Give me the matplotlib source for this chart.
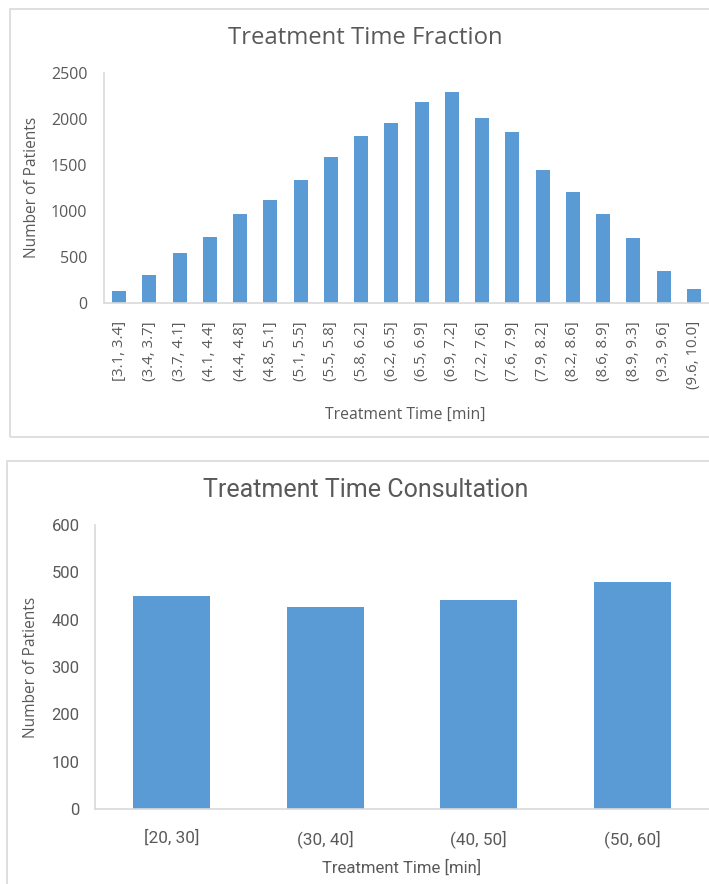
import matplotlib
matplotlib.use("Agg")
import matplotlib.pyplot as plt
from matplotlib.patches import Rectangle
from matplotlib import font_manager

# --- data -------------------------------------------------------------
fraction_bins = ["[3.1, 3.4]", "(3.4, 3.7]", "(3.7, 4.1]", "(4.1, 4.4]", "(4.4, 4.8]",
                 "(4.8, 5.1]", "(5.1, 5.5]", "(5.5, 5.8]", "(5.8, 6.2]", "(6.2, 6.5]",
                 "(6.5, 6.9]", "(6.9, 7.2]", "(7.2, 7.6]", "(7.6, 7.9]", "(7.9, 8.2]",
                 "(8.2, 8.6]", "(8.6, 8.9]", "(8.9, 9.3]", "(9.3, 9.6]", "(9.6, 10.0]"]
fraction_counts = [135, 300, 540, 713, 963, 1118, 1332, 1582, 1810, 1951,
                   2179, 2294, 2005, 1860, 1448, 1209, 963, 702, 351, 155]
fraction_yticks = [0, 500, 1000, 1500, 2000, 2500]

consult_bins = ["[20, 30]", "(30, 40]", "(40, 50]", "(50, 60]"]
consult_counts = [451, 427, 442, 480]
consult_yticks = [0, 100, 200, 300, 400, 500, 600]

# --- style ------------------------------------------------------------
BAR = "#5B9BD5"
TXT = "#595959"
GRID = "#D9D9D9"

available = {f.name for f in font_manager.fontManager.ttflist}
MAIN = ["Open Sans", "DejaVu Sans"]
NARROW = ["Liberation Sans Narrow", "Open Sans", "DejaVu Sans"] if "Liberation Sans Narrow" in available else ["Roboto", "DejaVu Sans"]

W, H = 709, 884
fig = plt.figure(figsize=(W / 100, H / 100), dpi=100)


def fx(px):
    return px / W


def fy(py):
    return 1 - py / H


# panel frames
fig.patches.append(Rectangle((fx(9.5), fy(436.5)), fx(720 - 9.5), fy(9.5) - fy(436.5),
                             transform=fig.transFigure, fill=False, ec=GRID, lw=1.2))
fig.patches.append(Rectangle((fx(7), fy(900)), fx(720 - 7), fy(461) - fy(900),
                             transform=fig.transFigure, fill=False, ec=GRID, lw=1.2))


def style_axes(ax):
    for s in ("top", "right"):
        ax.spines[s].set_visible(False)
    for s in ("left", "bottom"):
        ax.spines[s].set_color(GRID)
        ax.spines[s].set_linewidth(1.2)
    ax.tick_params(length=0, colors=TXT)


# --- top chart: fraction treatment time ---------------------------------
ax1 = fig.add_axes([fx(104), fy(303), fx(709) - fx(104), fy(72.7) - fy(303)])
x1 = range(len(fraction_bins))
ax1.bar(x1, fraction_counts, width=0.46, color=BAR)
ax1.set_xlim(-0.5, len(fraction_bins) - 0.5)
ax1.set_ylim(0, 2500)
ax1.set_yticks(fraction_yticks)
ax1.set_yticklabels([str(v) for v in fraction_yticks], family=MAIN, fontsize=11.5, color=TXT)
ax1.set_xticks(list(x1))
ax1.set_xticklabels(fraction_bins, rotation=90, family=MAIN, fontsize=10.8, color=TXT)
ax1.tick_params(axis="y", pad=12)
ax1.tick_params(axis="x", pad=13)
style_axes(ax1)
fig.text(fx(365), fy(38), "Treatment Time Fraction", ha="center", va="center",
         family=MAIN, fontsize=17.2, color=TXT)
fig.text(fx(32), fy(187), "Number of Patients", ha="center", va="center", rotation=90,
         family=MAIN, fontsize=11.2, color=TXT)
fig.text(fx(405), fy(415), "Treatment Time [min]", ha="center", va="center",
         family=MAIN, fontsize=11.3, color=TXT)

# --- bottom chart: consultation treatment time --------------------------
ax2 = fig.add_axes([fx(95), fy(809), fx(709) - fx(95), fy(525) - fy(809)])
x2 = range(len(consult_bins))
ax2.bar(x2, consult_counts, width=0.5, color=BAR)
ax2.set_xlim(-0.5, len(consult_bins) - 0.5)
ax2.set_ylim(0, 600)
ax2.set_yticks(consult_yticks)
ax2.set_yticklabels([str(v) for v in consult_yticks], family=NARROW, fontsize=12, color=TXT)
ax2.set_xticks(list(x2))
ax2.set_xticklabels(consult_bins, family=NARROW, fontsize=12.3, color=TXT)
ax2.tick_params(axis="y", pad=11)
ax2.tick_params(axis="x", pad=15)
style_axes(ax2)
fig.text(fx(366), fy(490), "Treatment Time Consultation", ha="center", va="center",
         family=NARROW, fontsize=18, color=TXT)
fig.text(fx(31), fy(667), "Number of Patients", ha="center", va="center", rotation=90,
         family=MAIN, fontsize=11.2, color=TXT)
fig.text(fx(402), fy(868), "Treatment Time [min]", ha="center", va="center",
         family=NARROW, fontsize=12, color=TXT)

fig.savefig("out.png", dpi=100, facecolor="white")
